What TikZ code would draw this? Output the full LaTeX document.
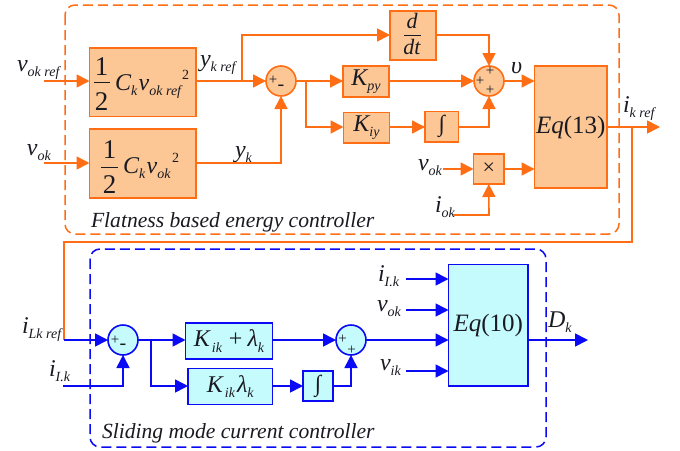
\documentclass[tikz,border=0pt]{standalone}
\usepackage{amsmath}
\usepackage{fontspec}
\setmainfont{Liberation Serif}
\usetikzlibrary{arrows.meta}
\definecolor{og}{HTML}{FF6E14}
\definecolor{ofill}{HTML}{FCC795}
\definecolor{bl}{HTML}{0A0AF5}
\definecolor{bfill}{HTML}{C6FBFD}
\definecolor{ink}{HTML}{1A1A22}
\newcommand{\sbs}[1]{\raisebox{-5.5pt}{\fontsize{14}{14}\selectfont\itshape #1}}
\newcommand{\supt}{\raisebox{11pt}{\fontsize{14}{14}\selectfont\upshape 2}}
\begin{document}
\begin{tikzpicture}[x=1pt,y=-1pt,
  every node/.style={text=ink,font=\fontsize{24}{26}\selectfont\itshape,inner sep=0pt,outer sep=0pt},
  lab/.style={anchor=base west},
  num/.style={anchor=base,font=\fontsize{27}{27}\selectfont\upshape},
  ital/.style={anchor=base,font=\fontsize{22}{22}\selectfont\itshape},
  obox/.style={draw=og,fill=ofill,line width=1.6pt,anchor=north west},
  bbox/.style={draw=bl,fill=bfill,line width=1.6pt,anchor=north west},
  osum/.style={circle,draw=og,fill=ofill,line width=1.6pt,minimum size=30pt},
  bsum/.style={circle,draw=bl,fill=bfill,line width=1.6pt,minimum size=30pt},
  oline/.style={draw=og,line width=1.6pt},
  bline/.style={draw=bl,line width=1.6pt},
  oarr/.style={oline,-{Triangle[length=13pt,width=13pt,fill=og]}},
  barr/.style={bline,-{Triangle[length=13pt,width=13pt,fill=bl]}},
  sg/.style={font=\fontsize{15}{15}\selectfont\upshape},
  mn/.style={font=\fontsize{20}{20}\selectfont\upshape},
  bar/.style={draw=ink,line width=0.8pt},
  frameo/.style={draw=og,line width=1.5pt,dash pattern=on 10pt off 5pt,rounded corners=10pt},
  frameb/.style={draw=bl,line width=1.5pt,dash pattern=on 10pt off 5pt,rounded corners=10pt},
  captext/.style={lab,font=\fontsize{21.6}{23}\selectfont\itshape},
  intg/.style={font=\fontsize{23}{23}\selectfont\upshape}]
\useasboundingbox (0,0) rectangle (680,450);
\fill[white] (0,0) rectangle (680,450);
% frames
\draw[frameo] (65,5) rectangle (619,234);
\draw[frameb] (90,249) rectangle (546,447);
% orange boxes
\node[obox,minimum width=106.5pt,minimum height=68.5pt] (a) at (89.5,48) {};
\node[num] (a1) at (101.5,75) {1};
\node[num] (a2) at (101.5,110) {2};
\draw[bar] (94,82) -- (110,82);
\node[lab] (atext) at (115,90) {C\sbs{k}\hspace{1.5pt}v\sbs{ok ref}\hspace{1pt}\supt};
\node[obox,minimum width=106.5pt,minimum height=69pt] (b) at (89.5,129) {};
\node[num] (b1) at (109.5,158) {1};
\node[num] (b2) at (109.5,193) {2};
\draw[bar] (101,167) -- (118,167);
\node[lab] (btext) at (123,173) {C\sbs{k}\hspace{1.5pt}v\sbs{ok}\hspace{1.5pt}\supt};
\node[obox,minimum width=46pt,minimum height=49pt] (ddt) at (390,11) {};
\node[ital] (dn) at (412,28) {d};
\node[ital] (dd) at (412,54) {dt};
\draw[bar] (404,35) -- (421,35);
\node[obox,minimum width=46pt,minimum height=31pt] (kpy) at (343,66) {K\sbs{py}};
\node[obox,minimum width=46pt,minimum height=30.5pt] (kiy) at (343.5,112.5) {K\sbs{iy}};
\node[obox,intg,minimum width=33.5pt,minimum height=30.5pt] (into) at (425,111.5) {∫};
\node[osum] (s1) at (281,81) {};
\node[osum] (s2) at (489,81) {};
\node[obox,minimum width=72.5pt,minimum height=122pt,font=\fontsize{25}{26}\selectfont\itshape] (eq13) at (534.5,66) {Eq\upshape(13)};
\node[obox,minimum width=30.5pt,minimum height=30pt,font=\fontsize{22}{22}\selectfont\upshape] (mul) at (473.5,154) {×};
% blue boxes
\node[bsum] (s3) at (123,340) {};
\node[bsum] (s4) at (351,340) {};
\node[bbox,minimum width=87pt,minimum height=36pt] (k1) at (185.5,323) {K\hspace{2pt}\sbs{ik}\hspace{7pt}\upshape{+}\hspace{5pt}\textit{λ}\sbs{k}};
\node[bbox,minimum width=84.5pt,minimum height=36pt] (k2) at (188,368.5) {K\hspace{2pt}\sbs{ik}\hspace{2pt}\textit{λ}\sbs{k}};
\node[bbox,intg,minimum width=30pt,minimum height=30pt] (intb) at (303,371) {∫};
\node[bbox,minimum width=79.5pt,minimum height=121.5pt,font=\fontsize{25}{26}\selectfont\itshape] (eq10) at (448.5,264.5) {Eq\upshape(10)};
% sum signs
\node[sg] (p1) at (273,80) {+};
\node[mn] (m1) at (281,88) {-};
\node[sg] (p2) at (480,81) {+};
\node[sg] (p3) at (490,71) {+};
\node[sg] (p4) at (490,90) {+};
\node[sg] (p5) at (115,340) {+};
\node[mn] (m2) at (123,347) {-};
\node[sg] (p6) at (342.5,339) {+};
\node[sg] (p7) at (351.5,350) {+};
% labels
\node[lab] (lvr) at (17,71) {v\sbs{ok ref}};
\node[lab] (lv) at (27,155) {v\sbs{ok}};
\node[lab] (lyr) at (200,66) {y\sbs{k ref}};
\node[lab] (ly) at (235,157) {y\sbs{k}};
\node[lab] (lu) at (511,73) {υ};
\node[lab] (lik) at (623,112) {i\sbs{k ref}};
\node[lab] (lv2) at (418,170) {v\sbs{ok}};
\node[lab] (lio) at (435,212) {i\sbs{ok}};
\node[lab] (lil) at (22,333) {i\sbs{Lk ref}};
\node[lab] (li1) at (49,376) {i\sbs{I.k}};
\node[lab] (li2) at (378,281) {i\sbs{I.k}};
\node[lab] (lv3) at (377,311) {v\sbs{ok}};
\node[lab] (lv4) at (380,370) {v\sbs{ik}};
\node[lab] (ld) at (548,327) {D\sbs{k}};
\node[captext] (c1) at (91,227) {Flatness based energy controller};
\node[captext] (c2) at (102,438) {Sliding mode current controller};
% coordinates
\coordinate (o1) at (44,81); \coordinate (o2) at (44,163);
\coordinate (j1) at (242,81); \coordinate (j1t) at (242,35);
\coordinate (j2) at (306,81); \coordinate (j2b) at (306,127);
\coordinate (vs) at (443,169); \coordinate (is) at (453,215); \coordinate (ic) at (489,215);
\coordinate (jo) at (632,127); \coordinate (oe) at (660,127);
\coordinate (r1) at (632,242); \coordinate (r2) at (64,242); \coordinate (r3) at (64,340);
\coordinate (i1) at (63,386); \coordinate (i1c) at (123,386);
\coordinate (j3) at (151,340); \coordinate (j3b) at (151,386);
\coordinate (ic4) at (351,386);
\coordinate (e1) at (406,279); \coordinate (e2) at (406,310); \coordinate (e4) at (406,371); \coordinate (de) at (588,340);
% orange connectors
\draw[oarr] (o1) -- (a.west |- o1);
\draw[oarr] (o2) -- (b.west |- o2);
\draw[oarr] (a.east |- s1) -- (s1.west);
\draw[oarr] (j1) -- (j1t) -- (ddt.west |- j1t);
\draw[oarr] (b.east |- o2) -| (s1.south);
\draw[oarr] (s1.east) -- (kpy.west |- s1);
\draw[oarr] (j2) -- (j2b) -- (kiy.west |- j2b);
\draw[oarr] (ddt.east |- j1t) -| (s2.north);
\draw[oarr] (kpy.east |- s2) -- (s2.west);
\draw[oarr] (kiy.east |- j2b) -- (into.west |- j2b);
\draw[oarr] (into.east |- j2b) -| (s2.south);
\draw[oarr] (s2.east) -- (eq13.west |- s2);
\draw[oarr] (mul.east |- vs) -- (eq13.west |- vs);
\draw[oarr] (vs) -- (mul.west |- vs);
\draw[oarr] (is) -- (ic) -- (mul.south);
\draw[oarr] (eq13.east |- oe) -- (oe);
\draw[oline] (jo) -- (r1) -- (r2) -- (r3);
% blue connectors
\draw[barr] (r3) -- (s3.west);
\draw[barr] (i1) -- (i1c) -- (s3.south);
\draw[barr] (s3.east) -- (k1.west |- s3);
\draw[barr] (j3) -- (j3b) -- (k2.west |- j3b);
\draw[barr] (k1.east |- s4) -- (s4.west);
\draw[barr] (k2.east |- j3b) -- (intb.west |- j3b);
\draw[barr] (intb.east |- j3b) -- (ic4) -- (s4.south);
\draw[barr] (e1) -- (eq10.west |- e1);
\draw[barr] (e2) -- (eq10.west |- e2);
\draw[barr] (s4.east) -- (eq10.west |- s4);
\draw[barr] (e4) -- (eq10.west |- e4);
\draw[barr] (eq10.east |- de) -- (de);
\end{tikzpicture}
\end{document}
